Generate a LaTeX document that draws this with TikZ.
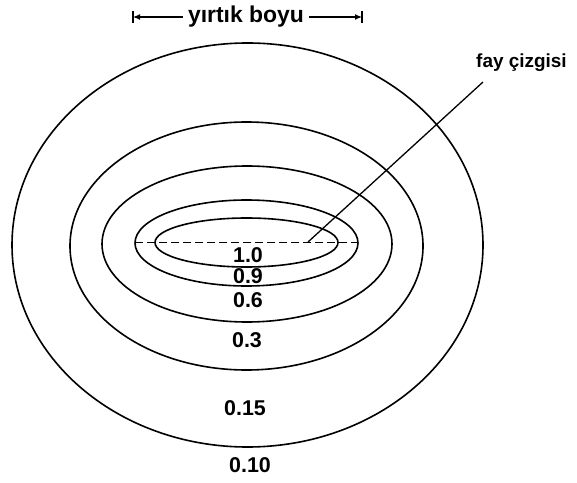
\documentclass[tikz,border=0pt]{standalone}
\usepackage{fontspec}
\setmainfont{Liberation Sans}
\usetikzlibrary{arrows.meta}
\tikzset{
  contour/.style={draw=black, line width=1.6bp},
  faultaxis/.style={draw=black, line width=0.9bp, dash pattern=on 8bp off 4bp},
  faultline/.style={draw=black, line width=1.3bp},
  valuelbl/.style={font=\fontsize{21.5}{24}\selectfont\bfseries, inner sep=0pt},
  biglbl/.style={font=\fontsize{23}{26}\selectfont\bfseries, inner sep=0pt},
  smalllbl/.style={font=\fontsize{19}{22}\selectfont\bfseries, inner sep=0pt},
  dimline/.style={draw=black, line width=1.2bp, -{Latex[length=7bp,width=6bp]}},
  dimbar/.style={draw=black, line width=1.8bp}
}
\begin{document}
\begin{tikzpicture}[x=1bp,y=-1bp]
\useasboundingbox (0,0) rectangle (577,483);
% contours
\draw[contour] (247.5,245) ellipse [x radius=235.5, y radius=202];
\draw[contour] (246.5,246) ellipse [x radius=176.5, y radius=124];
\draw[contour] (247,244) ellipse [x radius=145, y radius=78];
\draw[contour] (246.5,243) ellipse [x radius=111.5, y radius=43];
\draw[contour] (246.5,242.5) ellipse [x radius=91.5, y radius=24.5];
% fault trace
\coordinate (fa) at (135,242);
\coordinate (fb) at (358,242);
\draw[faultaxis] (fa) -- (fb);
% fault label and leader
\node[smalllbl, anchor=west] (fay) at (476,63) {fay çizgisi};
\coordinate (fp) at (308,242);
\coordinate (fq) at (483,82);
\draw[faultline] (fp) -- (fq);
% values
\node[valuelbl] (v10) at (248,255) {1.0};
\node[valuelbl] (v09) at (248,276) {0.9};
\node[valuelbl] (v06) at (248,300) {0.6};
\node[valuelbl] (v03) at (247,340) {0.3};
\node[valuelbl] (v015) at (245,408) {0.15};
\node[valuelbl] (v010) at (250,465) {0.10};
% rupture length
\node[biglbl, inner xsep=5bp] (yb) at (246,17) {yırtık boyu};
\coordinate (dl) at (133,17);
\coordinate (dr) at (362,17);
\draw[dimline] (yb.west) -- (dl);
\draw[dimline] (yb.east) -- (dr);
\draw[dimbar] ([yshift=-6bp]dl) -- ([yshift=6bp]dl);
\draw[dimbar] ([yshift=-6bp]dr) -- ([yshift=6bp]dr);
\end{tikzpicture}
\end{document}
